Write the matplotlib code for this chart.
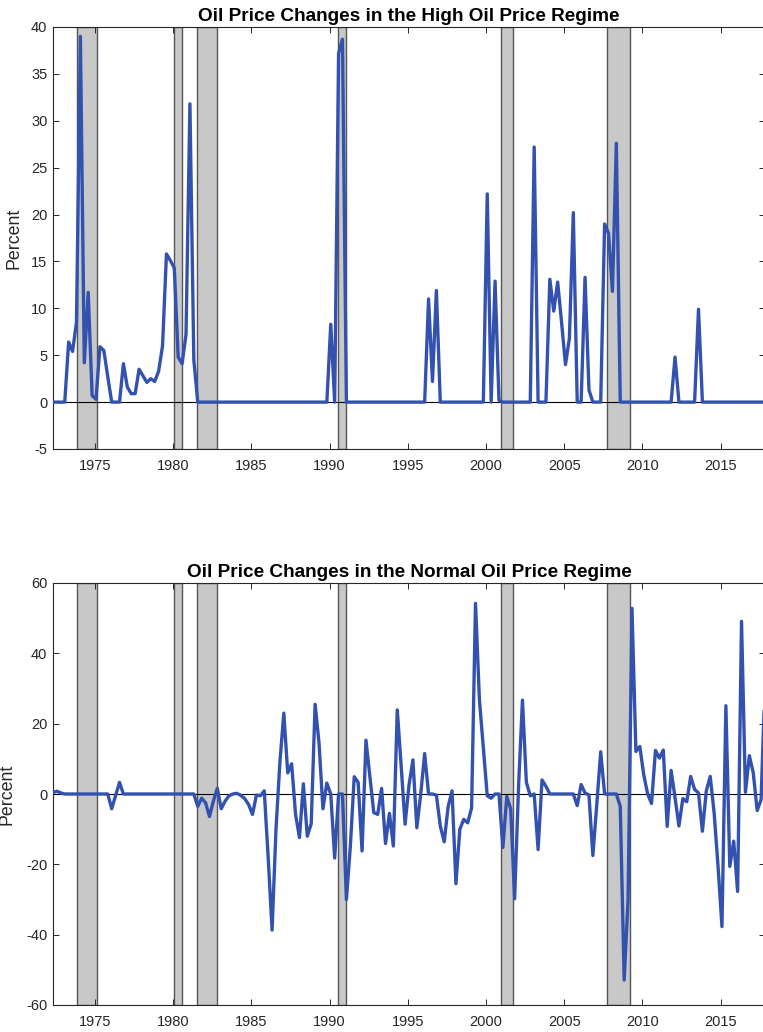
import numpy as np
import matplotlib
matplotlib.use("Agg")
import matplotlib.pyplot as plt

plt.rcParams['font.family'] = ['Liberation Sans', 'DejaVu Sans']
plt.rcParams['axes.unicode_minus'] = False

# ---------------- data ----------------
start_year = 1972.33          # first quarterly observation
quarter = 0.25

high_regime = [
    0, 0, 0, 0, 6.4, 5.4, 8.5, 39.0, 4.2, 11.7,
    0.7, 0.3, 5.9, 5.5, 2.7, 0, 0, 0, 4.1, 1.6,
    0.9, 0.9, 3.5, 2.8, 2.1, 2.5, 2.2, 3.3, 6.0, 15.8,
    15.1, 14.3, 4.8, 4.1, 7.2, 31.8, 4.5, 0, 0, 0,
    0, 0, 0, 0, 0, 0, 0, 0, 0, 0,
    0, 0, 0, 0, 0, 0, 0, 0, 0, 0,
    0, 0, 0, 0, 0, 0, 0, 0, 0, 0,
    0, 8.3, 0, 37.2, 38.7, 0, 0, 0, 0, 0,
    0, 0, 0, 0, 0, 0, 0, 0, 0, 0,
    0, 0, 0, 0, 0, 0, 11.0, 2.2, 11.9, 0,
    0, 0, 0, 0, 0, 0, 0, 0, 0, 0,
    0, 22.2, 0, 12.9, 0.2, 0, 0, 0, 0, 0,
    0, 0, 0, 27.2, 0, 0, 0, 13.1, 9.7, 12.8,
    8.5, 4.0, 6.8, 20.2, 0, 0, 13.3, 1.3, 0, 0,
    0, 19.0, 18.0, 11.8, 27.6, 0, 0, 0, 0, 0,
    0, 0, 0, 0, 0, 0, 0, 0, 0, 4.8,
    0, 0, 0, 0, 0, 9.9, 0, 0, 0, 0,
    0, 0, 0, 0, 0, 0, 0, 0, 0, 0,
    0, 0, 0,
]

normal_regime = [
    0.4, 0.8, 0.3, 0, 0, 0, 0, 0, 0, 0,
    0, 0, 0, 0, 0, -4.2, -0.5, 3.3, 0, 0,
    0, 0, 0, 0, 0, 0, 0, 0, 0, 0,
    0, 0, 0, 0, 0, 0, 0, -3.5, -1.2, -2.5,
    -6.4, -2.0, 1.6, -4.2, -2.0, -0.5, 0, 0.2, -0.4, -1.3,
    -3.0, -5.8, -0.3, -0.5, 0.9, -18.0, -38.7, -10.0, 9.0, 23.0,
    6.0, 8.6, -5.8, -12.4, 2.9, -12.0, -8.5, 25.5, 14.5, -4.2,
    3.1, 0, -18.2, 0, 0, -30.0, -15.0, 4.9, 3.3, -16.2,
    15.3, 5.0, -5.3, -5.8, 1.6, -14.1, -5.5, -14.8, 23.9, 8.0,
    -8.6, 2.5, 9.7, -9.6, 0, 11.5, 0, 0, -0.3, -9.1,
    -13.6, -3.6, 0.9, -25.5, -10.0, -7.2, -8.2, -4.0, 54.2, 26.8,
    13.0, -0.5, -1.2, 0, 0, -15.2, -0.7, -4.3, -29.8, 2.0,
    26.7, 3.3, -0.5, 0, -15.8, 4.0, 2.2, 0, 0, 0,
    0, 0, 0, 0, -3.3, 2.7, 0.3, -0.3, -17.5, -3.0,
    12.0, 0, 0, 0, 0, -3.5, -52.9, -30.0, 52.8, 12.1,
    13.5, 5.5, 0, -2.7, 12.4, 10.2, 12.5, -9.2, 6.7, -1.0,
    -9.1, -1.3, -2.2, 5.0, 1.3, 0.3, -10.6, 0.9, 5.0, -5.4,
    -20.6, -37.7, 25.1, -20.6, -13.4, -27.7, 49.1, 0.5, 10.9, 6.0,
    -4.7, -1.6, 32.0,
]

recessions = [(1973.87, 1975.14), (1980.07, 1980.60), (1981.56, 1982.82),
              (1990.53, 1991.04), (2000.99, 2001.73), (2007.74, 2009.23)]

year_ticks = [1975, 1980, 1985, 1990, 1995, 2000, 2005, 2010, 2015]

titles = ["Oil Price Changes in the High Oil Price Regime",
          "Oil Price Changes in the Normal Oil Price Regime"]
ylims = [(-5, 40), (-60, 60)]
yticks = [list(range(-5, 41, 5)), list(range(-60, 61, 20))]

# ---------------- plot ----------------
dates = start_year + quarter * np.arange(len(high_regime))

W, H = 763, 1032
fig = plt.figure(figsize=(W / 100, H / 100), dpi=100)

left_px, right_px = 53, 765
boxes = [(27, 449), (583, 1005)]
ylabel_right_px = [23, 16]
line_color = '#3352B0'
axis_gray = '#262626'
ax_w = right_px - left_px

for i, series in enumerate([high_regime, normal_regime]):
    top_px, bot_px = boxes[i]
    ax = fig.add_axes([left_px / W, 1 - bot_px / H,
                       ax_w / W, (bot_px - top_px) / H])
    ylo, yhi = ylims[i]
    for a, b in recessions:
        ax.axvspan(a, b, facecolor='#C8C8C8', edgecolor='#555555',
                   linewidth=1.0, zorder=1)
    ax.axhline(0, color='black', linewidth=0.8, zorder=2)
    ax.plot(dates, series, color=line_color, linewidth=2.4, zorder=3,
            solid_joinstyle='round')
    ax.set_xlim(dates[0], dates[-1])
    ax.set_ylim(ylo, yhi)
    ax.set_xticks(year_ticks)
    ax.set_yticks(yticks[i])
    ax.tick_params(direction='in', length=4, width=0.7, colors=axis_gray,
                   labelsize=10.5, top=True, right=True)
    ax.tick_params(axis='y', pad=4)
    ax.tick_params(axis='x', pad=7)
    for s in ax.spines.values():
        s.set_color(axis_gray)
        s.set_linewidth(0.8)
    ax.set_title(titles[i], fontsize=13.7, fontweight='bold', pad=4)
    ax.set_ylabel('Percent', fontsize=12.8, color=axis_gray)
    ax.yaxis.set_label_coords((ylabel_right_px[i] - left_px) / ax_w, 0.5)

fig.savefig('out.png', dpi=100)
